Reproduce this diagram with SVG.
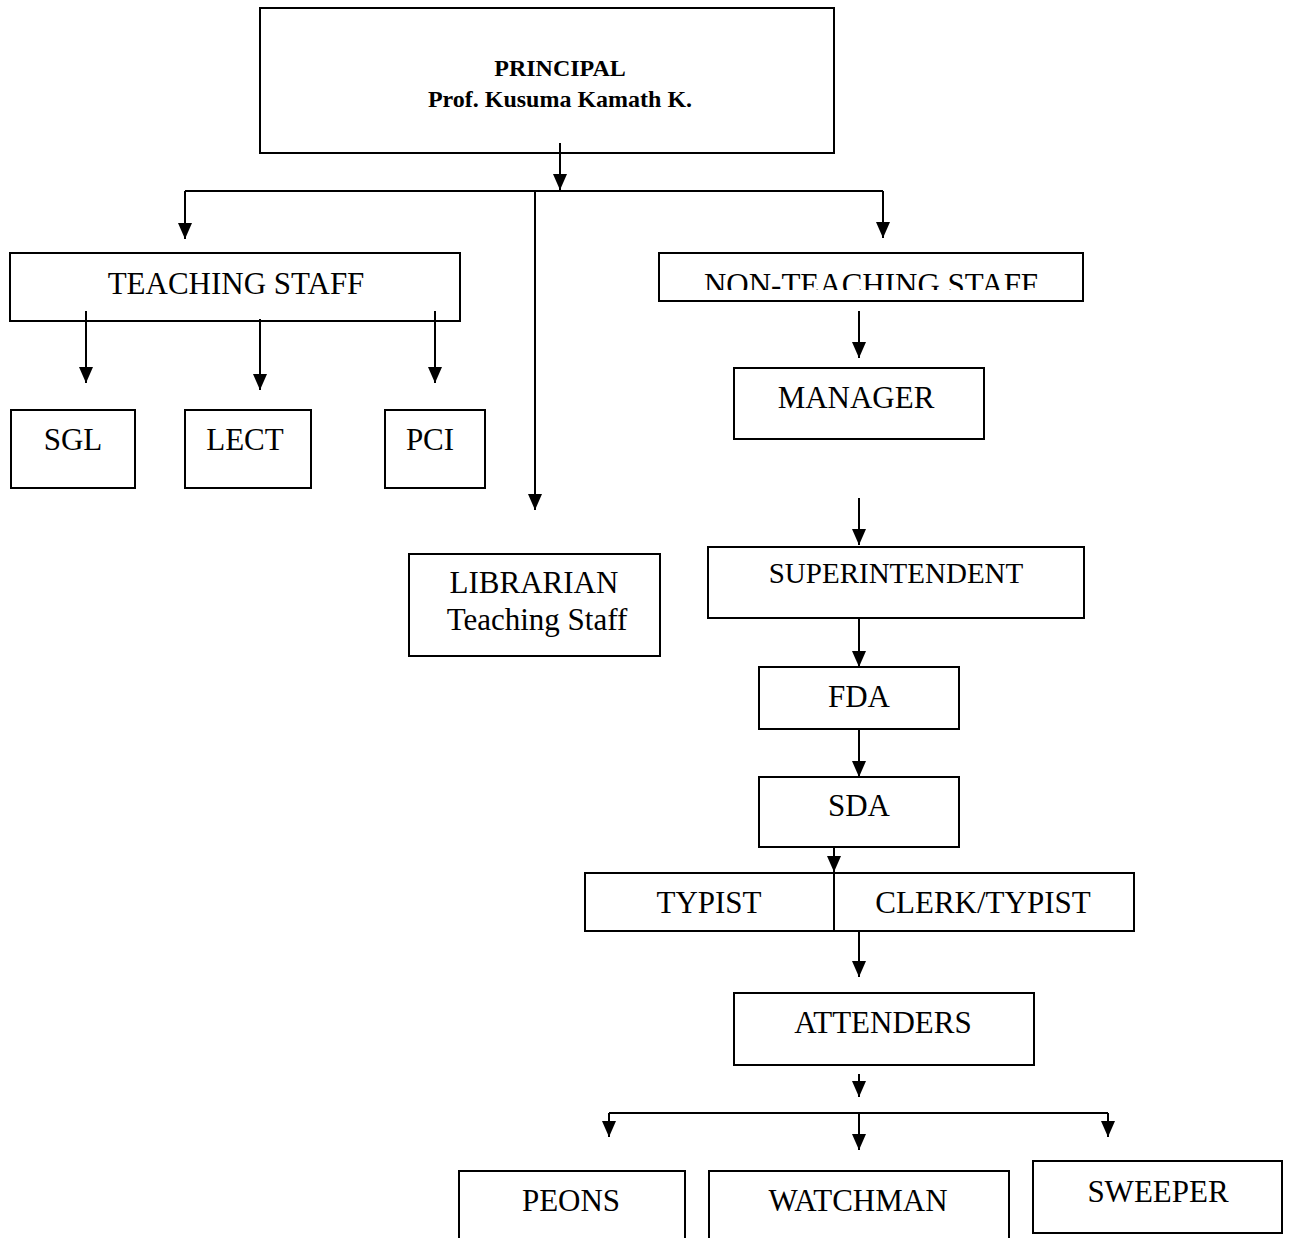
<svg xmlns="http://www.w3.org/2000/svg" width="1291" height="1238" viewBox="0 0 1291 1238">
<style>
.box{fill:#fff;stroke:#000;stroke-width:2}
.t{font-family:"Liberation Serif","Times New Roman",serif;font-size:31px;fill:#000;text-anchor:middle}
.b{font-weight:bold;font-size:24px}
.c{fill:none;stroke:#000;stroke-width:2}
</style>
<defs>
<marker id="a" markerUnits="userSpaceOnUse" markerWidth="16" markerHeight="14" viewBox="0 0 16 14" refX="16" refY="7" orient="auto">
<path d="M0,0 L16,7 L0,14 Z" fill="#000"/>
</marker>
<clipPath id="ntclip"><rect x="659" y="253" width="424" height="37"/></clipPath>
</defs>
<rect width="1291" height="1238" fill="#fff"/>
<g id="connectors">
<path class="c" d="M560,143 V190" marker-end="url(#a)"/>
<path class="c" d="M185,191 H883"/>
<path class="c" d="M185,191 V239" marker-end="url(#a)"/>
<path class="c" d="M883,191 V238" marker-end="url(#a)"/>
<path class="c" d="M535,191 V510" marker-end="url(#a)"/>
<path class="c" d="M86,311 V383" marker-end="url(#a)"/>
<path class="c" d="M260,319 V390" marker-end="url(#a)"/>
<path class="c" d="M435,311 V383" marker-end="url(#a)"/>
<path class="c" d="M859,311 V358" marker-end="url(#a)"/>
<path class="c" d="M859,498 V545" marker-end="url(#a)"/>
<path class="c" d="M859,618 V667" marker-end="url(#a)"/>
<path class="c" d="M859,729 V777" marker-end="url(#a)"/>
<path class="c" d="M834,847 V872" marker-end="url(#a)"/>
<path class="c" d="M859,931 V977" marker-end="url(#a)"/>
<path class="c" d="M859,1074 V1097" marker-end="url(#a)"/>
<path class="c" d="M609,1113 H1108"/>
<path class="c" d="M609,1113 V1137" marker-end="url(#a)"/>
<path class="c" d="M859,1113 V1150" marker-end="url(#a)"/>
<path class="c" d="M1108,1113 V1137" marker-end="url(#a)"/>
</g>
<g id="principal">
<rect class="box" x="260" y="8" width="574" height="145" style="fill:none"/>
<text class="t b" x="560" y="76">PRINCIPAL</text>
<text class="t b" x="560" y="107">Prof. Kusuma Kamath K.</text>
</g>
<g id="teaching">
<rect class="box" x="10" y="253" width="450" height="68" style="fill:none"/>
<text class="t" x="236" y="294">TEACHING STAFF</text>
</g>
<g id="nonteaching">
<rect class="box" x="659" y="253" width="424" height="48"/>
<text class="t" x="871" y="295" clip-path="url(#ntclip)">NON-TEACHING STAFF</text>
</g>
<g id="sgl">
<rect class="box" x="11" y="410" width="124" height="78"/>
<text class="t" x="73" y="450">SGL</text>
</g>
<g id="lect">
<rect class="box" x="185" y="410" width="126" height="78"/>
<text class="t" x="245" y="450">LECT</text>
</g>
<g id="pci">
<rect class="box" x="385" y="410" width="100" height="78"/>
<text class="t" x="430" y="450">PCI</text>
</g>
<g id="librarian">
<rect class="box" x="409" y="554" width="251" height="102"/>
<text class="t" x="534" y="593">LIBRARIAN</text>
<text class="t" x="537" y="630">Teaching Staff</text>
</g>
<g id="manager">
<rect class="box" x="734" y="368" width="250" height="71"/>
<text class="t" x="856" y="408">MANAGER</text>
</g>
<g id="superintendent">
<rect class="box" x="708" y="547" width="376" height="71"/>
<text class="t" x="896" y="583" style="font-size:29px">SUPERINTENDENT</text>
</g>
<g id="fda">
<rect class="box" x="759" y="667" width="200" height="62"/>
<text class="t" x="859" y="707">FDA</text>
</g>
<g id="sda">
<rect class="box" x="759" y="777" width="200" height="70"/>
<text class="t" x="859" y="816">SDA</text>
</g>
<g id="typist">
<rect class="box" x="585" y="873" width="549" height="58"/>
<line class="c" x1="834" y1="873" x2="834" y2="931"/>
<text class="t" x="709" y="913">TYPIST</text>
<text class="t" x="983" y="913">CLERK/TYPIST</text>
</g>
<g id="attenders">
<rect class="box" x="734" y="993" width="300" height="72"/>
<text class="t" x="883" y="1033">ATTENDERS</text>
</g>
<g id="peons">
<rect class="box" x="459" y="1171" width="226" height="80"/>
<text class="t" x="571" y="1211">PEONS</text>
</g>
<g id="watchman">
<rect class="box" x="709" y="1171" width="300" height="80"/>
<text class="t" x="858" y="1211">WATCHMAN</text>
</g>
<g id="sweeper">
<rect class="box" x="1033" y="1161" width="249" height="72"/>
<text class="t" x="1158" y="1202">SWEEPER</text>
</g>
</svg>
